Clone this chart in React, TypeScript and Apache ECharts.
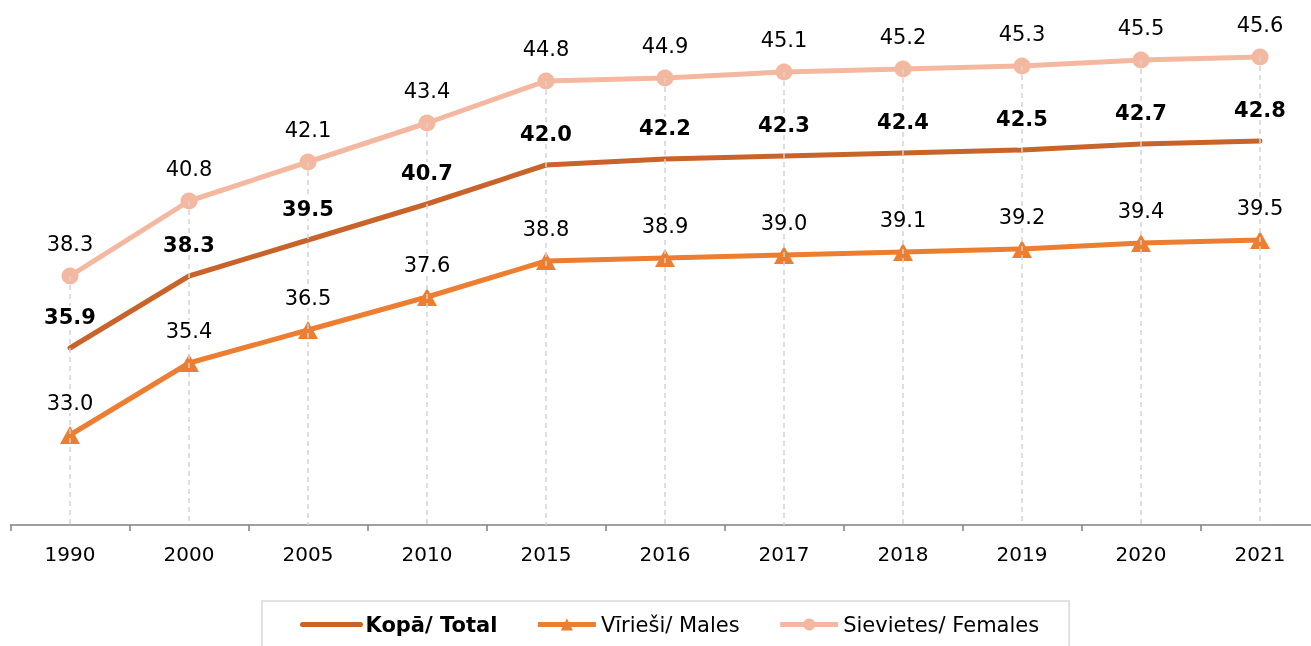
import React, { useEffect, useRef } from "react";
import * as echarts from "echarts";

const years = ["1990", "2000", "2005", "2010", "2015", "2016", "2017", "2018", "2019", "2020", "2021"];
const total = [35.9, 38.3, 39.5, 40.7, 42.0, 42.2, 42.3, 42.4, 42.5, 42.7, 42.8];
const males = [33.0, 35.4, 36.5, 37.6, 38.8, 38.9, 39.0, 39.1, 39.2, 39.4, 39.5];
const females = [38.3, 40.8, 42.1, 43.4, 44.8, 44.9, 45.1, 45.2, 45.3, 45.5, 45.6];
const seriesNames = ["Kopā/ Total", "Vīrieši/ Males", "Sievietes/ Females"];

const FONT = "DejaVu Sans, Verdana, sans-serif";
const AXIS_MIN = 30;
const C_TOTAL = "#C8632A";
const C_MALES = "#ED7D31";
const C_FEMALES = "#F4B8A0";

export default function App() {
  const ref = useRef<HTMLDivElement>(null);
  useEffect(() => {
    if (!ref.current) return;
    const chart = echarts.init(ref.current, undefined, { renderer: "svg" });
    const labelBase = {
      show: true,
      position: "top" as const,
      color: "#000",
      fontFamily: FONT,
      fontSize: 21,
      backgroundColor: "#fff",
      padding: [0, 1],
      formatter: (p: any) => Number(p.value).toFixed(1),
    };
    const labelSeries = (name: string, data: number[], symbol: string, size: any, distance: number, bold: boolean) => ({
      name: name + "_labels",
      type: "scatter",
      data,
      symbol,
      symbolSize: size,
      itemStyle: { color: "rgba(0,0,0,0)", opacity: 1 },
      silent: true,
      z: 10,
      label: { ...labelBase, distance, fontWeight: bold ? "bold" : "normal" },
    });
    chart.setOption({
      animation: false,
      textStyle: { fontFamily: FONT },
      grid: { left: 10.5, top: 0, width: 1309, height: 525, containLabel: false },
      xAxis: {
        type: "category",
        data: years,
        boundaryGap: true,
        axisLine: { lineStyle: { color: "#808080", width: 1.5 } },
        axisTick: { show: true, length: 6, lineStyle: { color: "#808080", width: 1.5 } },
        axisLabel: { color: "#000", fontSize: 20, fontFamily: FONT, margin: 19 },
        splitLine: { show: false },
      },
      yAxis: {
        type: "value",
        min: AXIS_MIN,
        max: 47.5,
        show: false,
        splitLine: { show: false },
      },
      legend: {
        left: 262,
        top: 601,
        padding: [13, 30, 30, 38],
        borderColor: "#d9d9d9",
        borderWidth: 1.5,
        itemWidth: 58,
        itemHeight: 15,
        itemGap: 38,
        lineStyle: { width: 5 },
        textStyle: { fontSize: 21, color: "#000", fontFamily: FONT },
        data: [
          {
            name: seriesNames[0],
            textStyle: { fontWeight: "bold" },
            itemStyle: { color: "rgba(0,0,0,0)", borderWidth: 0 },
          },
          { name: seriesNames[1] },
          { name: seriesNames[2] },
        ],
      },
      series: [
        {
          name: seriesNames[0],
          type: "line",
          data: total,
          symbol: "none",
          itemStyle: { color: C_TOTAL },
          lineStyle: { color: C_TOTAL, width: 5, cap: "round", join: "round" },
          z: 2,
        },
        {
          name: seriesNames[1],
          type: "line",
          data: males,
          symbol: "triangle",
          symbolSize: [20, 18],
          itemStyle: { color: C_MALES },
          lineStyle: { color: C_MALES, width: 5 },
          z: 2,
        },
        {
          name: seriesNames[2],
          type: "line",
          data: females,
          symbol: "circle",
          symbolSize: 17,
          itemStyle: { color: C_FEMALES },
          lineStyle: { color: C_FEMALES, width: 5 },
          z: 2,
          markLine: {
            silent: true,
            symbol: ["none", "none"],
            z: 5,
            label: { show: false },
            lineStyle: { color: "#d4d4d4", width: 1.5, type: [5, 4] },
            data: females.map((v, i) => [
              { coord: [i, v] },
              { coord: [i, AXIS_MIN] },
            ]),
          },
        },
        labelSeries(seriesNames[0], total, "circle", 5, 18.5, true),
        labelSeries(seriesNames[1], males, "triangle", [20, 18], 13, false),
        labelSeries(seriesNames[2], females, "circle", 17, 13.5, false),
      ],
    });
    return () => chart.dispose();
  }, []);
  return (
    <div
      ref={ref}
      style={{ position: "fixed", left: 0, top: 0, width: 1330, height: 646 }}
    />
  );
}
